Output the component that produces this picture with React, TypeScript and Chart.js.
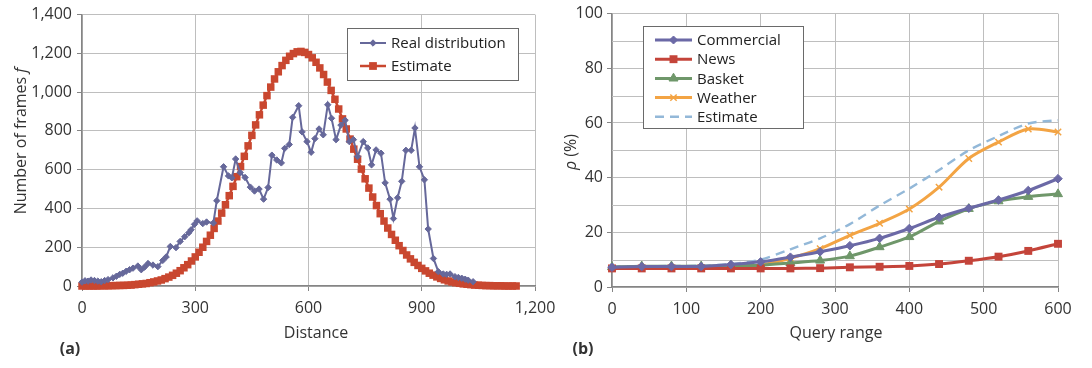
import React, { useEffect, useRef } from 'react';
import { Chart, registerables } from 'chart.js';

Chart.register(...registerables);

// ---------- Left chart (a) data ----------
const realDistance = [0, 8, 16, 24, 33, 42, 51, 60, 69, 82, 91, 100, 108, 117, 126, 135, 148, 157, 166, 175, 188, 201, 214, 223, 234, 249, 260, 272, 283, 289, 298, 305, 320, 330, 348, 357, 375, 388, 397, 407, 419, 432, 446, 457, 469, 481, 493, 503, 516, 528, 537, 549, 558, 574, 583, 596, 607, 617, 628, 639, 651, 661, 673, 686, 697, 708, 719, 730, 745, 757, 767, 779, 792, 803, 816, 825, 836, 847, 858, 872, 882, 894, 907, 917, 931, 944, 957, 966, 975, 988, 997, 1006, 1015, 1023, 1036];
const realFrames = [20, 27, 25, 31, 28, 25, 22, 28, 33, 42, 50, 60, 66, 76, 84, 92, 103, 84, 98, 116, 108, 100, 132, 150, 204, 198, 230, 254, 275, 290, 318, 336, 322, 330, 325, 440, 615, 568, 558, 655, 585, 560, 510, 490, 500, 448, 508, 675, 650, 635, 710, 730, 870, 930, 795, 745, 690, 760, 810, 780, 935, 865, 755, 830, 855, 745, 755, 668, 745, 712, 625, 702, 685, 532, 448, 348, 455, 540, 700, 700, 815, 615, 548, 294, 142, 74, 62, 60, 62, 48, 44, 40, 35, 30, 22];

const estimateDistance = [0, 10, 20, 30, 40, 50, 60, 70, 80, 90, 100, 110, 120, 130, 140, 150, 160, 170, 180, 190, 200, 210, 220, 230, 240, 250, 260, 270, 280, 290, 300, 310, 320, 330, 340, 350, 360, 370, 380, 390, 400, 410, 420, 430, 440, 450, 460, 470, 480, 490, 500, 510, 520, 530, 540, 550, 560, 570, 580, 590, 600, 610, 620, 630, 640, 650, 660, 670, 680, 690, 700, 710, 720, 730, 740, 750, 760, 770, 780, 790, 800, 810, 820, 830, 840, 850, 860, 870, 880, 890, 900, 910, 920, 930, 940, 950, 960, 970, 980, 990, 1000, 1010, 1020, 1030, 1040, 1050, 1060, 1070, 1080, 1090, 1100, 1110, 1120, 1130, 1140, 1150];
const estimateFrames = [0, 0, 0, 0, 0, 1, 1, 1, 2, 2, 3, 3, 4, 5, 7, 9, 11, 13, 17, 21, 26, 31, 38, 46, 55, 66, 79, 94, 110, 129, 150, 174, 200, 230, 262, 297, 335, 376, 419, 466, 514, 564, 616, 669, 723, 777, 831, 883, 933, 982, 1026, 1068, 1105, 1137, 1164, 1185, 1199, 1208, 1210, 1205, 1194, 1177, 1154, 1125, 1091, 1052, 1009, 963, 913, 862, 810, 758, 706, 654, 603, 553, 505, 459, 415, 373, 335, 299, 266, 236, 208, 183, 160, 140, 122, 106, 91, 78, 66, 56, 47, 39, 32, 26, 21, 17, 14, 11, 9, 7, 5, 4, 3, 2, 2, 1, 1, 1, 0, 0, 0, 0];

const distanceTicks = [0, 300, 600, 900, 1200];
const framesTicks = [0, 200, 400, 600, 800, 1000, 1200, 1400];

// ---------- Right chart (b) data ----------
const queryRange = [0, 40, 80, 120, 160, 200, 240, 280, 320, 360, 400, 440, 480, 520, 560, 600];
const commercial = [7.2, 7.5, 7.5, 7.5, 8.2, 9.2, 10.9, 12.9, 15.1, 17.8, 21.4, 25.5, 28.8, 31.8, 35.3, 39.6];
const news = [6.8, 6.8, 6.8, 6.8, 6.8, 6.8, 6.8, 6.9, 7.2, 7.4, 7.7, 8.4, 9.6, 11.1, 13.2, 15.8];
const basket = [7.3, 7.6, 7.6, 7.6, 7.8, 8.0, 8.8, 9.7, 11.3, 14.6, 18.3, 24.0, 28.6, 31.4, 33.0, 34.0];
const weather = [6.8, 6.8, 6.8, 6.9, 7.2, 8.0, 10.5, 14.0, 18.9, 23.3, 28.5, 36.5, 47.0, 53.0, 57.8, 56.7];
const estimateRho = [7.5, 7.6, 7.7, 7.8, 8.4, 10.0, 13.8, 17.8, 23.0, 29.8, 36.0, 42.8, 50.0, 55.2, 59.8, 61.0];

const queryTicks = [0, 100, 200, 300, 400, 500, 600];
const rhoGrid = [0, 10, 20, 30, 40, 50, 60, 70, 80, 90, 100];
const rhoLabelled = [0, 20, 40, 60, 80, 100];

// ---------- styling ----------
const FONT = '"Open Sans", "Noto Sans", sans-serif';
const TEXT = '#333333';
const GRID = '#BEBEBE';
const AXIS = '#858585';
const C_REAL = '#66689A';
const C_EST = '#C9472F';
const C_COM = '#6B69A6';
const C_NEWS = '#C4443A';
const C_BASK = '#6F976A';
const C_WEA = '#F3A444';
const C_EST2 = '#93B8D8';

function drawMarker(ctx: CanvasRenderingContext2D, style: string, x: number, y: number, r: number, color: string, lw = 1) {
  ctx.save();
  ctx.fillStyle = color;
  ctx.strokeStyle = color;
  ctx.lineWidth = lw;
  ctx.beginPath();
  if (style === 'rectRot') {
    ctx.moveTo(x - r, y); ctx.lineTo(x, y - r); ctx.lineTo(x + r, y); ctx.lineTo(x, y + r); ctx.closePath();
    ctx.fill(); ctx.stroke();
  } else if (style === 'rect') {
    const s = r * Math.SQRT1_2;
    ctx.rect(x - s, y - s, 2 * s, 2 * s);
    ctx.fill();
  } else if (style === 'triangle') {
    ctx.moveTo(x, y - r); ctx.lineTo(x - r * 0.866, y + r * 0.5); ctx.lineTo(x + r * 0.866, y + r * 0.5); ctx.closePath();
    ctx.fill(); ctx.stroke();
  } else if (style === 'crossRot') {
    const d = r * Math.SQRT1_2;
    ctx.moveTo(x - d, y - d); ctx.lineTo(x + d, y + d); ctx.moveTo(x + d, y - d); ctx.lineTo(x - d, y + d);
    ctx.stroke();
  }
  ctx.restore();
}

type LegendEntry = { label: string; color: string; marker: string | null; r: number; lw: number; dash?: number[]; mlw?: number };
type LegendCfg = { x0: number; y0: number; x1: number; y1: number; firstY: number; step: number; lineX0: number; lineX1: number; textX: number; size: number; entries: LegendEntry[] };

function legendPlugin(id: string, cfg: LegendCfg) {
  return {
    id,
    afterDraw(chart: any) {
      const ctx: CanvasRenderingContext2D = chart.ctx;
      ctx.save();
      ctx.fillStyle = '#FFFFFF';
      ctx.fillRect(cfg.x0, cfg.y0, cfg.x1 - cfg.x0, cfg.y1 - cfg.y0);
      ctx.strokeStyle = '#6A6A6A';
      ctx.lineWidth = 1;
      ctx.strokeRect(cfg.x0 + 0.5, cfg.y0 + 0.5, cfg.x1 - cfg.x0, cfg.y1 - cfg.y0);
      cfg.entries.forEach((e, i) => {
        const y = cfg.firstY + i * cfg.step;
        ctx.save();
        ctx.strokeStyle = e.color;
        ctx.lineWidth = e.lw;
        ctx.setLineDash(e.dash || []);
        ctx.beginPath();
        ctx.moveTo(cfg.lineX0, y);
        ctx.lineTo(cfg.lineX1, y);
        ctx.stroke();
        ctx.restore();
        if (e.marker) drawMarker(ctx, e.marker, (cfg.lineX0 + cfg.lineX1) / 2, y, e.r, e.color, e.mlw || 1);
        ctx.fillStyle = '#222222';
        ctx.font = `${cfg.size}px ${FONT}`;
        ctx.textAlign = 'left';
        ctx.textBaseline = 'middle';
        ctx.fillText(e.label, cfg.textX, y + 1);
      });
      ctx.restore();
    },
  };
}

type Part = { text: string; italic?: boolean; bold?: boolean };
type TextItem = { x: number; y: number; rotate?: boolean; size: number; parts: Part[] };

function textPlugin(id: string, items: TextItem[]) {
  return {
    id,
    afterDraw(chart: any) {
      const ctx: CanvasRenderingContext2D = chart.ctx;
      items.forEach((it) => {
        ctx.save();
        ctx.translate(it.x, it.y);
        if (it.rotate) ctx.rotate(-Math.PI / 2);
        ctx.fillStyle = TEXT;
        ctx.textBaseline = 'middle';
        ctx.textAlign = 'left';
        const fontOf = (p: Part) => `${p.italic ? 'italic ' : ''}${p.bold ? 'bold ' : ''}${it.size}px ${FONT}`;
        let total = 0;
        it.parts.forEach((p) => { ctx.font = fontOf(p); total += ctx.measureText(p.text).width; });
        let cx = -total / 2;
        it.parts.forEach((p) => {
          ctx.font = fontOf(p);
          ctx.fillText(p.text, cx, 0);
          cx += ctx.measureText(p.text).width;
        });
        ctx.restore();
      });
    },
  };
}

const tickFont = { family: FONT, size: 16 };

export default function App() {
  const leftRef = useRef<HTMLCanvasElement>(null);
  const rightRef = useRef<HTMLCanvasElement>(null);

  useEffect(() => {
    const left = new Chart(leftRef.current as HTMLCanvasElement, {
      type: 'line',
      data: {
        datasets: [
          {
            label: 'Real distribution',
            data: realDistance.map((x, i) => ({ x, y: realFrames[i] })),
            borderColor: C_REAL,
            backgroundColor: C_REAL,
            borderWidth: 2,
            pointStyle: 'rectRot',
            pointRadius: 3.2,
            pointBorderWidth: 1,
            pointBackgroundColor: C_REAL,
            pointBorderColor: C_REAL,
            tension: 0,
            clip: false,
          },
          {
            label: 'Estimate',
            data: estimateDistance.map((x, i) => ({ x, y: estimateFrames[i] })),
            borderColor: C_EST,
            backgroundColor: C_EST,
            borderWidth: 2.5,
            pointStyle: 'rect',
            pointRadius: 5.3,
            pointBorderWidth: 0,
            pointBackgroundColor: C_EST,
            tension: 0,
            clip: false,
          },
        ],
      } as any,
      options: {
        responsive: false,
        animation: false,
        devicePixelRatio: 1,
        layout: { padding: { left: 0, top: 14, right: 65, bottom: 0 } },
        plugins: { legend: { display: false }, tooltip: { enabled: false } },
        scales: {
          x: {
            type: 'linear',
            min: 0,
            max: 1200,
            afterBuildTicks: (s: any) => { s.ticks = distanceTicks.map((v) => ({ value: v })); },
            afterFit: (s: any) => { s.height = 82; },
            grid: { color: GRID, lineWidth: 1, tickLength: 5, tickColor: AXIS },
            border: { color: AXIS, width: 1.5 },
            ticks: { padding: 8, color: TEXT, font: tickFont, maxRotation: 0, autoSkip: false, callback: (v: any) => Number(v).toLocaleString('en-US') },
          },
          y: {
            type: 'linear',
            min: 0,
            max: 1400,
            afterBuildTicks: (s: any) => { s.ticks = framesTicks.map((v) => ({ value: v })); },
            afterFit: (s: any) => { s.width = 82; },
            grid: { color: GRID, lineWidth: 1, tickLength: 5, tickColor: AXIS },
            border: { color: AXIS, width: 1.5 },
            ticks: { padding: 5, color: TEXT, font: tickFont, autoSkip: false, callback: (v: any) => Number(v).toLocaleString('en-US') },
          },
        },
      } as any,
      plugins: [
        legendPlugin('legA', {
          x0: 347, y0: 28, x1: 518, y1: 80, firstY: 43, step: 23, lineX0: 360, lineX1: 386, textX: 391, size: 15,
          entries: [
            { label: 'Real distribution', color: C_REAL, marker: 'rectRot', r: 3.2, lw: 2 },
            { label: 'Estimate', color: C_EST, marker: 'rect', r: 5.5, lw: 2.5 },
          ],
        }),
        textPlugin('txtA', [
          { x: 21, y: 141, rotate: true, size: 16, parts: [{ text: 'Number of frames ' }, { text: 'f', italic: true }] },
          { x: 316, y: 333, size: 16, parts: [{ text: 'Distance' }] },
          { x: 70, y: 349, size: 16, parts: [{ text: '(a)', bold: true }] },
        ]),
      ],
    });

    // minor horizontal gridlines (every 10) for chart (b), placed through the y scale
    const minorGrid = {
      id: 'minorGrid',
      beforeDatasetsDraw(chart: any) {
        const { ctx, chartArea } = chart;
        const ys = chart.scales.y;
        ctx.save();
        ctx.strokeStyle = GRID;
        ctx.lineWidth = 1;
        rhoGrid.forEach((v) => {
          if (rhoLabelled.includes(v)) return;
          const py = Math.round(ys.getPixelForValue(v)) + 0.5;
          ctx.beginPath();
          ctx.moveTo(chartArea.left, py);
          ctx.lineTo(chartArea.right, py);
          ctx.stroke();
        });
        ctx.restore();
      },
    };

    const mk = (label: string, values: number[], color: string, style: any, r: number, extra: any = {}) => ({
      label,
      data: queryRange.map((x, i) => ({ x, y: values[i] })),
      borderColor: color,
      backgroundColor: color,
      borderWidth: 3,
      pointStyle: style,
      pointRadius: r,
      pointBorderWidth: 1,
      pointBackgroundColor: color,
      pointBorderColor: color,
      tension: 0.3,
      clip: false,
      ...extra,
    });

    const right = new Chart(rightRef.current as HTMLCanvasElement, {
      type: 'line',
      data: {
        datasets: [
          mk('Commercial', commercial, C_COM, 'rectRot', 4.3),
          mk('News', news, C_NEWS, 'rect', 5.6, { pointBorderWidth: 0 }),
          mk('Basket', basket, C_BASK, 'triangle', 5.2),
          mk('Weather', weather, C_WEA, 'crossRot', 4.5, { pointBorderWidth: 1.5 }),
          mk('Estimate', estimateRho, C_EST2, false, 0, { borderDash: [9, 6], borderWidth: 2.4, pointRadius: 0 }),
        ],
      } as any,
      options: {
        responsive: false,
        animation: false,
        devicePixelRatio: 1,
        layout: { padding: { left: 0, top: 13, right: 34, bottom: 0 } },
        plugins: { legend: { display: false }, tooltip: { enabled: false } },
        scales: {
          x: {
            type: 'linear',
            min: 0,
            max: 600,
            afterBuildTicks: (s: any) => { s.ticks = queryTicks.map((v) => ({ value: v })); },
            afterFit: (s: any) => { s.height = 81; },
            grid: { color: GRID, lineWidth: 1, tickLength: 5, tickColor: AXIS },
            border: { color: AXIS, width: 1.5 },
            ticks: { padding: 8, color: TEXT, font: tickFont, maxRotation: 0, autoSkip: false },
          },
          y: {
            type: 'linear',
            min: 0,
            max: 100,
            afterBuildTicks: (s: any) => { s.ticks = rhoLabelled.map((v) => ({ value: v })); },
            afterFit: (s: any) => { s.width = 112; },
            grid: { color: GRID, lineWidth: 1, tickLength: 5, tickColor: AXIS },
            border: { color: AXIS, width: 1.5 },
            ticks: { padding: 4, color: TEXT, font: tickFont, autoSkip: false },
          },
        },
      } as any,
      plugins: [
        minorGrid,
        legendPlugin('legB', {
          x0: 143, y0: 26, x1: 303, y1: 128, firstY: 40, step: 19.2, lineX0: 155, lineX1: 192, textX: 197, size: 15,
          entries: [
            { label: 'Commercial', color: C_COM, marker: 'rectRot', r: 4, lw: 3 },
            { label: 'News', color: C_NEWS, marker: 'rect', r: 5.6, lw: 3 },
            { label: 'Basket', color: C_BASK, marker: 'triangle', r: 5.2, lw: 3 },
            { label: 'Weather', color: C_WEA, marker: 'crossRot', r: 4.5, lw: 3, mlw: 1.5 },
            { label: 'Estimate', color: C_EST2, marker: null, r: 0, lw: 2.4, dash: [9, 6] },
          ],
        }),
        textPlugin('txtB', [
          { x: 71, y: 152, rotate: true, size: 16, parts: [{ text: 'ρ', italic: true }, { text: ' (%)' }] },
          { x: 336, y: 333, size: 16, parts: [{ text: 'Query range' }] },
          { x: 83, y: 349, size: 16, parts: [{ text: '(b)', bold: true }] },
        ]),
      ],
    });

    return () => {
      left.destroy();
      right.destroy();
    };
  }, []);

  return (
    <div style={{ position: 'fixed', left: 0, top: 0, width: 1092, height: 368, background: '#FFFFFF', overflow: 'hidden' }}>
      <canvas ref={leftRef} width={600} height={368} style={{ position: 'absolute', left: 0, top: 0, width: 600, height: 368 }} />
      <canvas ref={rightRef} width={592} height={368} style={{ position: 'absolute', left: 500, top: 0, width: 592, height: 368 }} />
    </div>
  );
}
